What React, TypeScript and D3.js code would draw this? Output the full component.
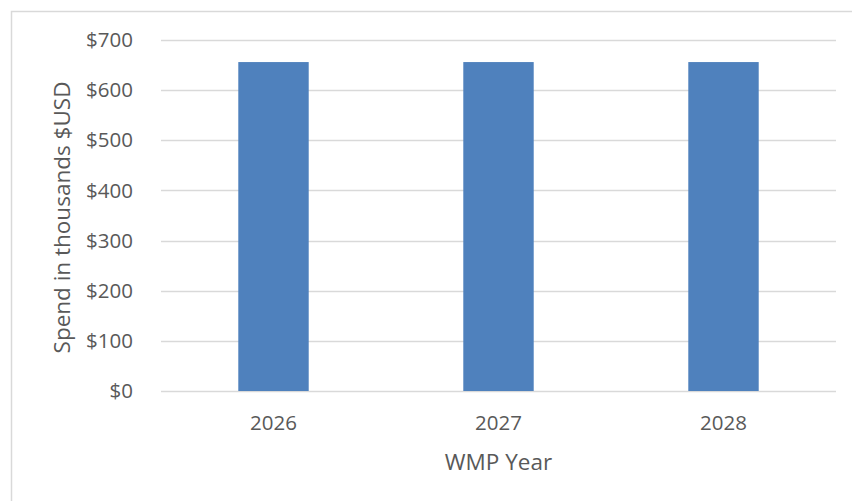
import React from "react";
import * as d3 from "d3";

const years = ["2026", "2027", "2028"];
const spend = [656, 656, 656];
const yTicks = [0, 100, 200, 300, 400, 500, 600, 700];

const width = 852;
const height = 501;
const margin = { top: 40, right: 16, bottom: 110, left: 161 };

const fontFamily = "'Open Sans', 'Liberation Sans', sans-serif";
const textColor = "#595959";
const gridColor = "#d9d9d9";

export default function App() {
    const x = d3
        .scaleBand()
        .domain(years)
        .range([margin.left, width - margin.right])
        .paddingInner(0.687)
        .paddingOuter(0.3435);

    const y = d3
        .scaleLinear()
        .domain([0, 700])
        .range([height - margin.bottom, margin.top]);

    const fmt = (d: number) => "$" + d3.format(",")(d);

    return (
        <svg
            width={width}
            height={height}
            style={{ position: "absolute", left: 0, top: 0, background: "#fff" }}
        >
            {/* chart frame */}
            <rect x={11.5} y={11.5} width={width + 10} height={height + 10} fill="#fff" stroke={gridColor} strokeWidth={1.5} />

            {/* gridlines */}
            {yTicks.map(t => (
                <line
                    key={"g" + t}
                    x1={margin.left}
                    x2={width - margin.right}
                    y1={Math.round(y(t)) + 0.5}
                    y2={Math.round(y(t)) + 0.5}
                    stroke={gridColor}
                    strokeWidth={1.3}
                />
            ))}

            {/* y tick labels */}
            {yTicks.map(t => (
                <text
                    key={"t" + t}
                    x={133}
                    y={y(t)}
                    dy="0.35em"
                    textAnchor="end"
                    fontFamily={fontFamily}
                    fontSize={20.5}
                    fill={textColor}
                >
                    {fmt(t)}
                </text>
            ))}

            {/* bars */}
            {years.map((yr, i) => (
                <rect
                    key={"b" + yr}
                    x={x(yr)}
                    y={y(spend[i])}
                    width={x.bandwidth()}
                    height={y(0) - y(spend[i])}
                    fill="#4f81bd"
                />
            ))}

            {/* x tick labels */}
            {years.map(yr => (
                <text
                    key={"x" + yr}
                    x={(x(yr) as number) + x.bandwidth() / 2}
                    y={423}
                    dy="0.35em"
                    textAnchor="middle"
                    fontFamily={fontFamily}
                    fontSize={20.5}
                    fill={textColor}
                >
                    {yr}
                </text>
            ))}

            {/* axis titles */}
            <text
                x={(margin.left + width - margin.right) / 2}
                y={462}
                dy="0.35em"
                textAnchor="middle"
                fontFamily={fontFamily}
                fontSize={22.5}
                fill={textColor}
            >
                WMP Year
            </text>
            <text
                transform={`translate(62, ${(y(0) + y(700)) / 2 + 2}) rotate(-90)`}
                dy="0.35em"
                textAnchor="middle"
                fontFamily={fontFamily}
                fontSize={22.5}
                fill={textColor}
            >
                Spend in thousands $USD
            </text>
        </svg>
    );
}
